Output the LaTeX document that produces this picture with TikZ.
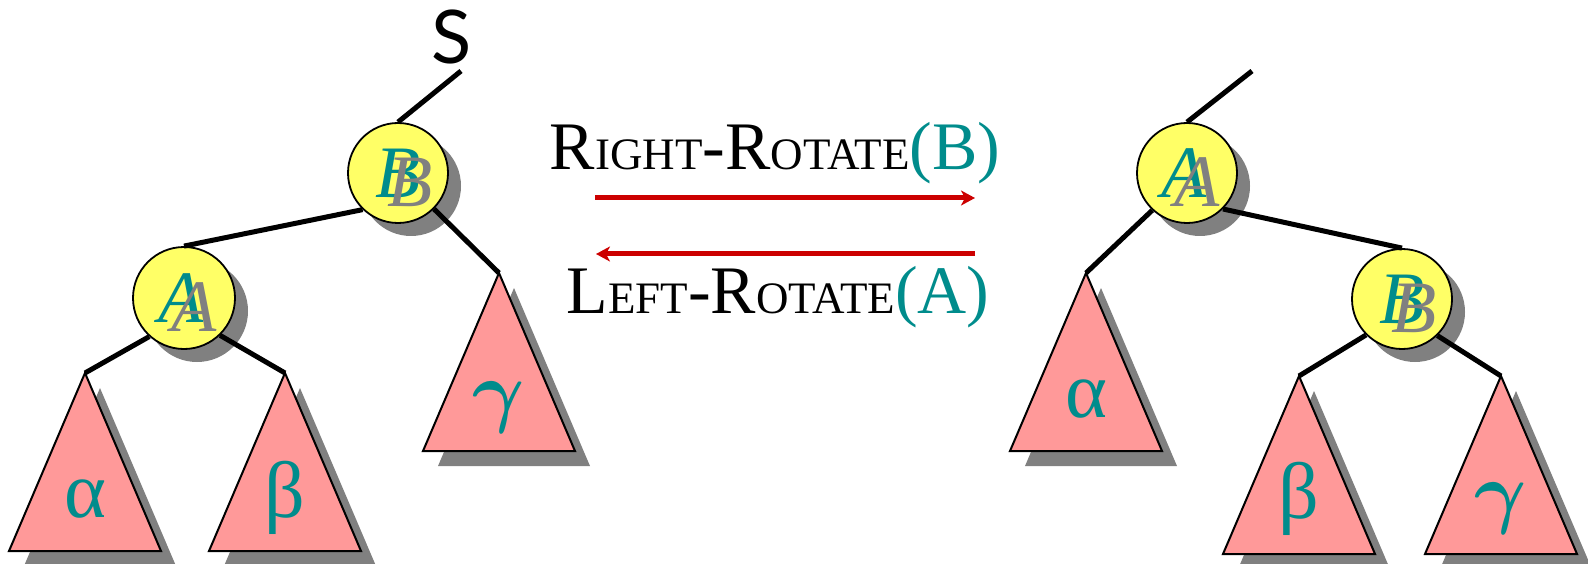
\documentclass[tikz,border=0pt]{standalone}
\usepackage{fontspec}
\setmainfont{Liberation Serif}
\newfontfamily\sfS{Lato}
\usetikzlibrary{arrows.meta}
\definecolor{tealc}{RGB}{0,140,140}
\definecolor{triPink}{RGB}{255,153,153}
\definecolor{nodeYellow}{RGB}{255,255,102}
\definecolor{shGray}{RGB}{128,128,128}
\definecolor{arrRed}{RGB}{204,0,0}
\newcommand\fakesc[1]{{\fontsize{45}{50}\selectfont #1}}
\newcommand\biggamma{{\normalsize\boldmath\scalebox{8}{$\gamma$}}}
\begin{document}
\begin{tikzpicture}[x=1pt,y=-1pt,
 edge/.style={line width=5pt},
 keynode/.style={circle,draw=black,line width=1.8pt,fill=nodeYellow,minimum size=100pt,inner sep=0pt},
 keyletter/.style={inner sep=0pt,text=tealc,font=\fontsize{74}{80}\selectfont\itshape},
 keyshadow/.style={inner sep=0pt,text=shGray,font=\fontsize{74}{80}\selectfont\itshape},
 greek/.style={inner sep=0pt,anchor=base,text=tealc,font=\fontsize{80}{90}\selectfont},
 rot/.style={line width=5pt,draw=arrRed,-{Stealth[length=14pt,width=15pt,inset=4pt]}},
 lbl/.style={inner sep=0pt,anchor=base,font=\fontsize{68}{80}\selectfont},
 subtree/.pic={\fill[shGray] (15,15)--(-61,193)--(91,193)--cycle;
   \filldraw[fill=triPink,draw=black,line width=2pt,line join=miter] (0,0)--(-76,178)--(76,178)--cycle;}
]
\useasboundingbox (0,0) rectangle (1588,564);
% circle shadows
\fill[shGray] (411,186) circle[radius=50];
\fill[shGray] (197,311) circle[radius=51];
\fill[shGray] (1200,186) circle[radius=50];
\fill[shGray] (1415,312) circle[radius=50];
% apex coordinates
\coordinate (topL) at (461,71);
\coordinate (alA) at (85,373);
\coordinate (beA) at (285,373);
\coordinate (gaA) at (499,273);
\coordinate (topR) at (1252,71);
\coordinate (alB) at (1086,273);
\coordinate (beB) at (1299,376);
\coordinate (gaB) at (1501,376);
% subtrees
\pic at (alA) {subtree};
\pic at (beA) {subtree};
\pic at (gaA) {subtree};
\pic at (alB) {subtree};
\pic at (beB) {subtree};
\pic at (gaB) {subtree};
% key nodes
\node[keynode] (bL) at (398,173) {};
\node[keynode,minimum size=102pt] (aL) at (184,298) {};
\node[keynode] (aR) at (1187,173) {};
\node[keynode] (bR) at (1402,299) {};
% edges
\draw[edge] (topL) -- (bL.north);
\draw[edge] (bL.226) -- (aL.north);
\draw[edge] (bL.-45) -- (gaA);
\draw[edge] (aL.228) -- (alA);
\draw[edge] (aL.-46) -- (beA);
\draw[edge] (topR) -- (aR.north);
\draw[edge] (aR.227) -- (alB);
\draw[edge] (aR.-45) -- (bR.north);
\draw[edge] (bR.225) -- (beB);
\draw[edge] (bR.-46) -- (gaB);
% letters
\node[keyletter] (bLt) at (bL.center) {B};
\node[keyshadow] (bLs) at ([shift={(12,9)}]bL.center) {B};
\node[keyletter] (aLt) at ([shift={(-3,0)}]aL.center) {A};
\node[keyshadow] (aLs) at ([shift={(10,9)}]aL.center) {A};
\node[keyletter] (aRt) at ([shift={(-3,0)}]aR.center) {A};
\node[keyshadow] (aRs) at ([shift={(10,9)}]aR.center) {A};
\node[keyletter] (bRt) at (bR.center) {B};
\node[keyshadow] (bRs) at ([shift={(12,9)}]bR.center) {B};
% greek labels
\node[greek] (galpha) at (85,517) {α};
\node[greek] (gbeta) at (285,517) {β};
\node[greek] (ggamma) at (499,417) {\biggamma};
\node[greek] (galpha2) at (1086,417) {α};
\node[greek] (gbeta2) at (1299,518) {β};
\node[greek] (ggamma2) at (1501,518) {\biggamma};
% S
\node[inner sep=0pt,font=\sfS\fontsize{74}{80}\selectfont] (sLbl) at (452,37) {S};
% rotations
\node[lbl] (rr) at (775,170) {R\fakesc{IGHT}-R\fakesc{OTATE}\textcolor{tealc}{(B)}};
\node[lbl] (lr) at (778,313) {L\fakesc{EFT}-R\fakesc{OTATE}\textcolor{tealc}{(A)}};
\coordinate (r1s) at (595,198);
\coordinate (r1e) at (975,198);
\coordinate (l1s) at (975,254);
\coordinate (l1e) at (596,254);
\draw[rot] (r1s) -- (r1e);
\draw[rot] (l1s) -- (l1e);
\end{tikzpicture}
\end{document}
